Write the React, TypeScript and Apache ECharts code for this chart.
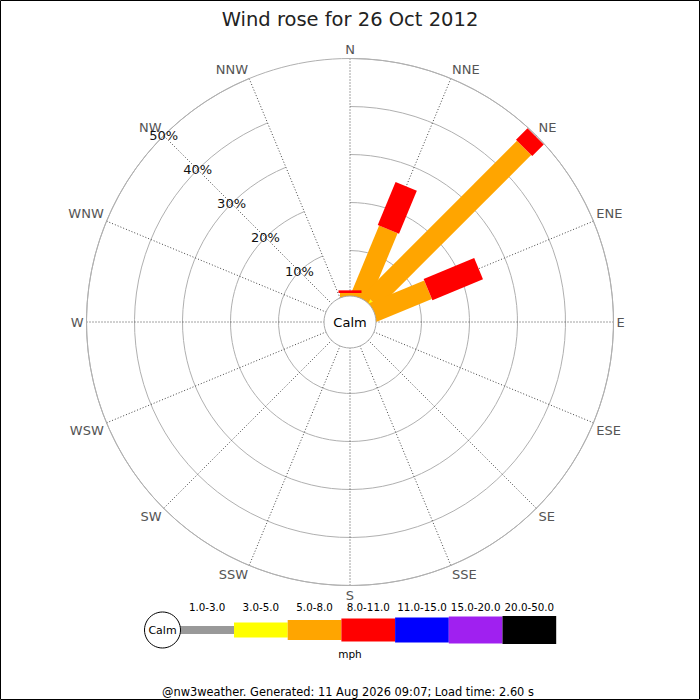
import React, { useEffect, useRef } from "react";
import * as echarts from "echarts";

const directions = [
  "N", "NNE", "NE", "ENE", "E", "ESE", "SE", "SSE",
  "S", "SSW", "SW", "WSW", "W", "WNW", "NW", "NNW",
];

const speedBins = ["1.0-3.0", "3.0-5.0", "5.0-8.0", "8.0-11.0", "11.0-15.0", "15.0-20.0", "20.0-50.0"];
const binColors = ["#999999", "#ffff00", "#ffa500", "#ff0000", "#0000ff", "#a020f0", "#000000"];
const binWidths = [8, 15, 20, 23, 25, 27, 28];

// percent of time per direction, one array per speed bin (N first, clockwise)
const bin1to3 = [0, 0, 0, 0, 0, 0, 0, 0, 0, 0, 0, 0, 0, 0, 0, 0];
const bin3to5 = [0, 0, 1.4, 0, 0, 0, 0, 0, 0, 0, 0, 0, 0, 0, 0, 0];
const bin5to8 = [1.15, 16.0, 45.0, 12.7, 0, 0, 0, 0, 0, 0, 0, 0, 0, 0, 0, 0];
const bin8to11 = [0.55, 9.7, 3.4, 11.4, 0, 0, 0, 0, 0, 0, 0, 0, 0, 0, 0, 0];
const bin11to15 = [0, 0, 0, 0, 0, 0, 0, 0, 0, 0, 0, 0, 0, 0, 0, 0];
const bin15to20 = [0, 0, 0, 0, 0, 0, 0, 0, 0, 0, 0, 0, 0, 0, 0, 0];
const bin20to50 = [0, 0, 0, 0, 0, 0, 0, 0, 0, 0, 0, 0, 0, 0, 0, 0];

const binValues = [bin1to3, bin3to5, bin5to8, bin8to11, bin11to15, bin15to20, bin20to50];

const percentTicks = [0, 10, 20, 30, 40, 50];

const FONT = "DejaVu Sans";
const CX = 350;
const CY = 322;

const App: React.FC = () => {
  const chartRef = useRef<HTMLDivElement>(null);

  useEffect(() => {
    const chart = echarts.init(chartRef.current!, undefined, { renderer: "svg" });

    // running totals so each bin starts where the previous one ended
    const cum = directions.map(() => 0);
    const series: any[] = binValues.map((vals, b) => {
      const data: number[][] = [];
      vals.forEach((v, d) => {
        if (v > 0) data.push([cum[d], d, cum[d] + v]);
        cum[d] += v;
      });
      const w = binWidths[b];
      const color = binColors[b];
      return {
        type: "custom",
        name: speedBins[b],
        coordinateSystem: "polar",
        polarIndex: 0,
        encode: { radius: 0, angle: 1 },
        data,
        renderItem: (params: any, api: any) => {
          const start = api.value(0);
          const dir = api.value(1);
          const end = api.value(2);
          const p0 = api.coord([start, dir]);
          const p1 = api.coord([end, dir]);
          const a = api.coord([0, dir]);
          const f = api.coord([50, dir]);
          const dx = f[0] - a[0];
          const dy = f[1] - a[1];
          const len = Math.sqrt(dx * dx + dy * dy) || 1;
          const nx = (-dy / len) * (w / 2);
          const ny = (dx / len) * (w / 2);
          return {
            type: "polygon",
            shape: {
              points: [
                [p0[0] + nx, p0[1] + ny],
                [p1[0] + nx, p1[1] + ny],
                [p1[0] - nx, p1[1] - ny],
                [p0[0] - nx, p0[1] - ny],
              ],
            },
            style: { fill: color },
          };
        },
      };
    });

    const legendStep = 53.7;
    const legendX0 = 180.3;
    const legendY = 630;
    const legendItems: any[] = [];
    speedBins.forEach((label, i) => {
      const h = binWidths[i];
      legendItems.push({
        type: "rect",
        shape: { x: legendX0 + i * legendStep, y: legendY - h / 2, width: legendStep, height: h },
        style: { fill: binColors[i] },
      });
      legendItems.push({
        type: "text",
        x: legendX0 + i * legendStep + legendStep / 2,
        y: 607,
        style: {
          text: label,
          fill: "#000",
          font: `10.3px '${FONT}'`,
          align: "center",
          verticalAlign: "middle",
        },
      });
    });

    const option: any = {
      animation: false,
      backgroundColor: "#fff",
      textStyle: { fontFamily: FONT },
      title: {
        text: "Wind rose for 26 Oct 2012",
        left: "center",
        top: 4,
        textStyle: { fontSize: 19.5, fontWeight: "normal", color: "#222", fontFamily: FONT },
      },
      polar: [
        { center: [CX, CY], radius: [23.5, 263.5] },
        { center: [CX, CY], radius: [23.5, 263.5] },
      ],
      angleAxis: [
        {
          polarIndex: 0,
          type: "category",
          data: directions,
          startAngle: 90,
          clockwise: true,
          boundaryGap: false,
          axisLine: { show: true, lineStyle: { color: "#b0b0b0", width: 1 } },
          axisTick: { show: false },
          axisLabel: { color: "#555", fontSize: 13, margin: 3, fontFamily: FONT },
          splitLine: { show: true, lineStyle: { color: "#444", width: 1, type: [1, 2] } },
        },
        {
          polarIndex: 1,
          type: "category",
          data: directions,
          startAngle: 135,
          boundaryGap: false,
          axisLine: { show: false },
          axisTick: { show: false },
          axisLabel: { show: false },
          splitLine: { show: false },
        },
      ],
      radiusAxis: [
        {
          polarIndex: 0,
          type: "value",
          min: percentTicks[0],
          max: percentTicks[percentTicks.length - 1],
          interval: 10,
          axisLine: { show: false },
          axisTick: { show: false },
          axisLabel: { show: false },
          splitLine: { show: true, lineStyle: { color: "#b0b0b0", width: 1 } },
        },
        {
          polarIndex: 1,
          type: "value",
          min: percentTicks[0],
          max: percentTicks[percentTicks.length - 1],
          interval: 10,
          axisLine: { show: false },
          axisTick: { show: false },
          splitLine: { show: false },
          axisLabel: {
            show: true,
            margin: 0,
            align: "center",
            verticalAlign: "middle",
            color: "#111",
            fontSize: 13,
            fontFamily: FONT,
            formatter: (v: number) => (v === 0 ? "" : `${v}%`),
          },
        },
      ],
      series,
      graphic: [
        {
          type: "rect",
          z: 100,
          shape: { x: 0.5, y: 0.5, width: 699, height: 699 },
          style: { fill: "none", stroke: "#000", lineWidth: 1 },
        },
        {
          type: "circle",
          z: 100,
          shape: { cx: CX, cy: CY, r: 26 },
          style: { fill: "#fff", stroke: "#aaa", lineWidth: 1 },
        },
        {
          type: "text",
          z: 101,
          x: CX,
          y: CY,
          style: {
            text: "Calm",
            fill: "#000",
            font: `13px '${FONT}'`,
            align: "center",
            verticalAlign: "middle",
          },
        },
        {
          type: "group",
          z: 100,
          children: [
            {
              type: "rect",
              shape: { x: 162, y: legendY - binWidths[0] / 2, width: 20, height: binWidths[0] },
              style: { fill: binColors[0] },
            },
            ...legendItems,
            {
              type: "circle",
              shape: { cx: 162.5, cy: legendY, r: 18 },
              style: { fill: "#fff", stroke: "#000", lineWidth: 1 },
            },
            {
              type: "text",
              x: 162.5,
              y: legendY,
              style: {
                text: "Calm",
                fill: "#000",
                font: `11px '${FONT}'`,
                align: "center",
                verticalAlign: "middle",
              },
            },
            {
              type: "text",
              x: 350,
              y: 654,
              style: {
                text: "mph",
                fill: "#000",
                font: `10.5px '${FONT}'`,
                align: "center",
                verticalAlign: "middle",
              },
            },
          ],
        },
        {
          type: "text",
          z: 100,
          x: 348,
          y: 692,
          style: {
            text: "@nw3weather. Generated: 11 Aug 2026 09:07; Load time: 2.60 s",
            fill: "#000",
            font: `11.4px '${FONT}'`,
            align: "center",
            verticalAlign: "middle",
          },
        },
      ],
    };

    chart.setOption(option);

    return () => {
      chart.dispose();
    };
  }, []);

  return (
    <div
      ref={chartRef}
      style={{ position: "absolute", left: 0, top: 0, width: "700px", height: "700px" }}
    />
  );
};

export default App;
